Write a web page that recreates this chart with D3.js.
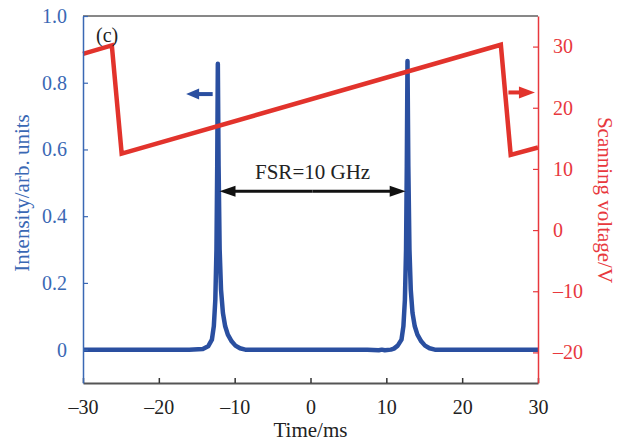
<!DOCTYPE html>
<html><head><meta charset="utf-8">
<script src="https://cdn.jsdelivr.net/npm/d3@7"></script>
<style>
html,body{margin:0;padding:0;background:#fff;}
svg{display:block;font-family:"Liberation Serif","Times New Roman",serif;}
</style></head>
<body>
<svg id="chart" width="632" height="443"></svg>
<script>
// ---- data ----
const timeI = [-30,-22,-16,-14.2,-13.5,-13.0,-12.75,-12.55,-12.4,-12.3,-12.22,-12.12,-11.98,-11.8,-11.55,-11.25,-10.9,-10.4,-9.9,-9.3,-8.6,0,7.5,9.0,9.4,9.8,10.6,11.0,11.5,12.0,12.25,12.45,12.6,12.7,12.79,12.9,13.05,13.22,13.45,13.75,14.1,14.6,15.1,15.7,16.4,22,30];
const intensity = [0,0,0,0.002,0.01,0.03,0.07,0.15,0.3,0.55,0.857,0.55,0.3,0.18,0.11,0.07,0.045,0.025,0.012,0.004,0,0,0,-0.002,0,-0.002,0,0.003,0.012,0.03,0.07,0.15,0.3,0.55,0.865,0.55,0.3,0.18,0.11,0.07,0.045,0.025,0.012,0.004,0,0,0];
const timeV = [-30,-26.2,-24.9,25.1,26.4,30];
const voltage = [28.8,30.2,12.5,30.3,12.3,13.5];
const xTicks = [-30,-20,-10,0,10,20,30];
const xTickLabels = ["\u201330","\u201320","\u201310","0","10","20","30"];
const yLTicks = [0,0.2,0.4,0.6,0.8,1.0];
const yLTickLabels = ["0","0.2","0.4","0.6","0.8","1.0"];
const yRTicks = [-20,-10,0,10,20,30];
const yRTickLabels = ["\u201320","\u201310","0","10","20","30"];

// ---- layout ----
const W=632,H=443, m={left:83,top:16,right:94,bottom:60};
const blueData="#2a4fa0", blueText="#3a68b4", redData="#e2332c", redText="#e8383d";
const svg=d3.select("#chart");
const x=d3.scaleLinear().domain([-30,30]).range([m.left,W-m.right]);
const yL=d3.scaleLinear().domain([-0.1,1.0]).range([H-m.bottom,m.top]);
const yR=d3.scaleLinear().domain([-25,35]).range([H-m.bottom,m.top]);

// top frame line
svg.append("line").attr("x1",m.left).attr("x2",W-m.right).attr("y1",m.top).attr("y2",m.top)
  .attr("stroke","#111").attr("stroke-width",1);

// data lines
const lineI=d3.line().x((d,i)=>x(timeI[i])).y(d=>yL(d));
svg.append("path").datum(intensity).attr("d",lineI).attr("fill","none")
  .attr("stroke",blueData).attr("stroke-width",4.5).attr("stroke-linejoin","round");
const lineV=d3.line().x((d,i)=>x(timeV[i])).y(d=>yR(d));
svg.append("path").datum(voltage).attr("d",lineV).attr("fill","none")
  .attr("stroke",redData).attr("stroke-width",4.5).attr("stroke-linejoin","miter");

// axes
const fs=20;
const gB=svg.append("g").attr("transform",`translate(0,${H-m.bottom})`)
  .call(d3.axisBottom(x).tickValues(xTicks).tickFormat((d,i)=>xTickLabels[i]).tickSizeInner(-5).tickSizeOuter(0).tickPadding(17));
gB.select(".domain").attr("stroke","#555").attr("stroke-width",2);
gB.selectAll(".tick line").attr("stroke","#333").attr("stroke-width",1.5);
gB.selectAll("text").attr("font-size",fs).attr("fill","#222").attr("font-family","Liberation Serif");

const gL=svg.append("g").attr("transform",`translate(${m.left},0)`)
  .call(d3.axisLeft(yL).tickValues(yLTicks).tickFormat((d,i)=>yLTickLabels[i]).tickSizeInner(-5).tickSizeOuter(0).tickPadding(16));
gL.select(".domain").attr("stroke",blueText).attr("stroke-width",1.5);
gL.selectAll(".tick line").attr("stroke",blueText).attr("stroke-width",1.2);
gL.selectAll("text").attr("font-size",fs).attr("fill",blueText).attr("font-family","Liberation Serif");

const gR=svg.append("g").attr("transform",`translate(${W-m.right},0)`)
  .call(d3.axisRight(yR).tickValues(yRTicks).tickFormat((d,i)=>yRTickLabels[i]).tickSizeInner(-5).tickSizeOuter(0).tickPadding(15));
gR.select(".domain").attr("stroke",redText).attr("stroke-width",1.5);
gR.selectAll(".tick line").attr("stroke",redText).attr("stroke-width",1.2);
gR.selectAll("text").attr("font-size",fs).attr("fill",redText).attr("font-family","Liberation Serif");

// axis titles
svg.append("text").attr("transform","translate(29,193) rotate(-90)").attr("text-anchor","middle")
  .attr("font-size",21).attr("fill",blueText).text("Intensity/arb. units");
svg.append("text").attr("transform","translate(598,200) rotate(90)").attr("text-anchor","middle")
  .attr("font-size",21).attr("fill",redText).text("Scanning voltage/V");
svg.append("text").attr("x",(m.left+W-m.right)/2).attr("y",437).attr("text-anchor","middle")
  .attr("font-size",21).attr("fill","#222").text("Time/ms");

// panel label
svg.append("text").attr("x",96).attr("y",42).attr("font-size",20).attr("fill","#222").text("(c)");

// arrows
function arrow(x1,y1,x2,y2,color,hl,hw,sw){
  const g=svg.append("g");
  const dx=x2-x1, dy=y2-y1, L=Math.hypot(dx,dy), ux=dx/L, uy=dy/L;
  g.append("line").attr("x1",x1).attr("y1",y1).attr("x2",x2-ux*hl*0.8).attr("y2",y2-uy*hl*0.8)
    .attr("stroke",color).attr("stroke-width",sw);
  const bx=x2-ux*hl, by=y2-uy*hl;
  g.append("path").attr("d",`M${x2},${y2}L${bx-uy*hw/2},${by+ux*hw/2}L${bx+uy*hw/2},${by-ux*hw/2}Z`).attr("fill",color);
}
// blue arrow pointing left (to the intensity axis)
arrow(x(-12.9),yL(0.766),x(-16.4),yL(0.766),blueData,13,11,4);
// red arrow pointing right (to the voltage axis)
arrow(x(26.1),yR(22.5),x(29.6),yR(22.5),redData,16,12,4);
// FSR double arrow
const fy=yL(0.475);
arrow((x(-12.0)+x(12.55))/2,fy,x(-12.0),fy,"#111",16,11,3);
arrow((x(-12.0)+x(12.55))/2,fy,x(12.55),fy,"#111",16,11,3);
svg.append("text").attr("x",(x(-12.0)+x(12.55))/2).attr("y",fy-12).attr("text-anchor","middle")
  .attr("font-size",21).attr("fill","#222").text("FSR=10 GHz");
</script>
</body></html>
